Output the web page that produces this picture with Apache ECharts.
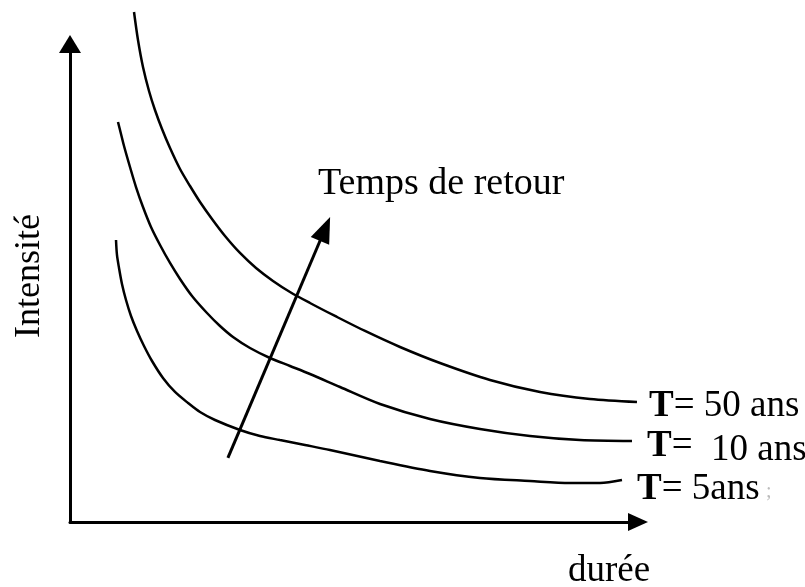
<!DOCTYPE html>
<html>
<head>
<meta charset="utf-8">
<script src="https://cdn.jsdelivr.net/npm/echarts@6/dist/echarts.min.js"></script>
<style>
html,body{margin:0;padding:0;background:#fff;}
#chart{width:805px;height:587px;}
</style>
</head>
<body>
<div id="chart"></div>
<script>
// Abstract units: duration (x) 0..100, intensity (y) 0..100
var seriesNames = ['T= 50 ans', 'T= 10 ans', 'T= 5ans'];
var labelTexts = ['{b|T}= 50 ans', '{b|T}=  {l|10 ans}', '{b|T}= 5ans'];
var curveT50 = [
  [11.27,106.70],[11.97,100.84],[12.85,95.19],[13.91,90.17],[14.96,86.19],[16.20,82.22],
  [17.61,78.24],[19.37,73.85],[21.13,70.29],[22.89,66.95],[25.00,63.39],[27.29,59.83],
  [29.93,56.28],[32.75,53.14],[35.74,50.42],[38.73,48.12],[42.25,45.82],[46.66,43.10],
  [51.94,39.96],[58.10,36.61],[65.14,33.26],[73.94,29.71],[82.75,27.20],[91.55,25.73],
  [99.82,25.10]
];
var curveT10 = [
  [8.45,83.68],[8.98,81.17],[9.51,78.66],[10.56,74.27],[11.62,70.08],[12.85,65.90],
  [14.26,61.72],[15.85,57.95],[17.61,54.19],[19.37,50.84],[21.48,47.28],[24.12,43.72],
  [26.41,41.00],[28.70,38.70],[31.69,36.40],[35.21,34.31],[38.73,32.64],[42.25,30.96],
  [47.54,28.24],[54.58,24.69],[63.38,21.55],[72.18,19.46],[80.99,17.99],[89.79,17.15],
  [98.94,16.95]
];
var curveT5 = [
  [8.10,59.00],[8.27,55.86],[8.63,53.14],[9.15,49.79],[9.86,46.44],[10.74,43.10],
  [11.80,39.96],[13.03,36.82],[14.44,33.68],[16.37,30.13],[18.49,27.20],[20.78,24.90],
  [22.89,23.01],[25.53,21.34],[29.93,19.25],[33.45,17.99],[36.97,17.15],[41.37,16.11],
  [45.77,15.06],[54.58,12.76],[63.38,10.67],[72.18,9.21],[80.99,8.58],[88.03,8.16],
  [93.31,8.16],[97.18,8.79]
];
var returnArrowStart = [27.8, 13.4];
var returnArrowEnd = [44.9, 61.3];
var arrowLabel = 'Temps de retour';
var xName = 'durée';
var yName = 'Intensité';

var FONT = '"Liberation Serif", "Times New Roman", serif';
var curves = [curveT50, curveT10, curveT5];
var labelOffsets = [[0, 4], [3, 5], [3, 9]];

var chart = echarts.init(document.getElementById('chart'), null, {renderer: 'canvas'});

var series = curves.map(function (c, i) {
  return {
    name: seriesNames[i],
    type: 'line',
    data: c,
    smooth: 0.3,
    symbol: 'none',
    clip: false,
    lineStyle: {color: '#000', width: 2.5},
    endLabel: {
      show: true,
      formatter: labelTexts[i],
      distance: 12,
      offset: labelOffsets[i],
      fontFamily: FONT,
      fontSize: 37,
      color: '#000',
      rich: {
        b: {fontWeight: 'bold', fontFamily: FONT, fontSize: 37, color: '#000'},
        l: {fontFamily: FONT, fontSize: 37, color: '#000', padding: [8, 0, 0, 0]}
      }
    }
  };
});

series.push({
  type: 'line',
  data: [],
  markLine: {
    silent: true,
    symbol: ['none', 'triangle'],
    symbolSize: [20, 26],
    label: {show: false},
    lineStyle: {color: '#000', width: 3, type: 'solid'},
    data: [[{coord: returnArrowStart}, {coord: returnArrowEnd}]]
  }
});

chart.setOption({
  animation: false,
  backgroundColor: '#fff',
  grid: {left: 70, right: 167, top: 44, bottom: 65, containLabel: false, outerBoundsMode: 'none'},
  xAxis: {
    type: 'value', min: 0, max: 100,
    axisLine: {show: true, onZero: false, symbol: ['none', 'triangle'], symbolSize: [18, 20],
      lineStyle: {color: '#000', width: 3}},
    axisTick: {show: false}, axisLabel: {show: false}, splitLine: {show: false},
    name: xName, nameLocation: 'end', nameGap: -70,
    nameTextStyle: {fontFamily: FONT, fontSize: 37, color: '#000', verticalAlign: 'top', padding: [31, 0, 0, 0]}
  },
  yAxis: {
    type: 'value', min: 0, max: 100,
    axisLine: {show: true, onZero: false, symbol: ['none', 'triangle'], symbolSize: [22, 18],
      lineStyle: {color: '#000', width: 3}},
    axisTick: {show: false}, axisLabel: {show: false}, splitLine: {show: false},
    name: yName, nameLocation: 'middle', nameGap: 22, nameRotate: 90,
    nameTextStyle: {fontFamily: FONT, fontSize: 36, color: '#000', padding: [0, 0, 0, 14]}
  },
  graphic: [
    {type: 'text', left: 318, top: 165, style: {text: arrowLabel, font: '38px ' + FONT, fill: '#000'}},
    {type: 'text', left: 766, top: 482, style: {text: ';', font: '20px ' + FONT, fill: '#bbb'}}
  ],
  series: series
});
</script>
</body>
</html>
